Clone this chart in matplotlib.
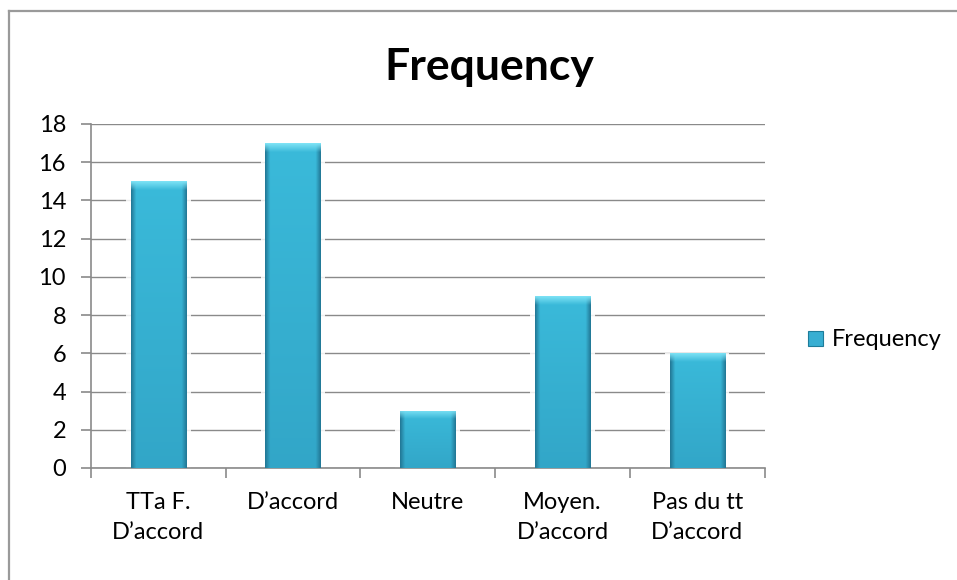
import numpy as np
import matplotlib
matplotlib.use("Agg")
import matplotlib.pyplot as plt
from matplotlib.lines import Line2D
from matplotlib.patches import Rectangle

# Survey answers and their counts
categories = ["TTa F.\nD\u2019accord", "D\u2019accord", "Neutre",
              "Moyen.\nD\u2019accord", "Pas du tt\nD\u2019accord"]
frequency = [15, 17, 3, 9, 6]
y_ticks = list(range(0, 19, 2))
series_name = "Frequency"
chart_title = "Frequency"

plt.rcParams['font.family'] = ['Lato', 'DejaVu Sans']

W, H = 957, 580
fig = plt.figure(figsize=(W / 100, H / 100), dpi=100)
ax = fig.add_axes([91 / W, 1 - 468 / H, (764.5 - 91) / W, (468 - 124) / H])

x = np.arange(len(categories))
bar_width = 0.41

# soft white halo behind each bar (hides the gridlines near the bar edges)
halo = ax.bar(x, frequency, width=bar_width + 0.07, color='white',
              edgecolor='none', alpha=0.85, zorder=2)
bars = ax.bar(x, frequency, width=bar_width, color='none',
              edgecolor='none', zorder=3)

base = np.array([58, 186, 218]) / 255.0
edge_dark = np.array([34, 120, 150]) / 255.0
top_light = np.array([125, 226, 245]) / 255.0
bottom_dark = np.array([44, 150, 185]) / 255.0


def bevel_image(height_units, nx=80, ny=300):
    u = np.linspace(0, 1, nx)
    v = np.linspace(0, 1, ny)
    U, V = np.meshgrid(u, v)
    side = np.clip(np.minimum(U, 1 - U) / 0.09, 0, 1)
    top_frac = min(0.45 / height_units, 0.35)
    top = np.clip((1 - V) / top_frac, 0, 1)
    img = np.ones((ny, nx, 3)) * base
    # darker toward the bottom of the bar
    vert = V[..., None]
    img = img * (0.45 + 0.55 * vert) + bottom_dark * (0.55 * (1 - vert))
    img = img * side[..., None] + edge_dark * (1 - side[..., None])
    img = img * top[..., None] + top_light * (1 - top[..., None])
    return np.clip(img, 0, 1)


for xi, val, patch in zip(x, frequency, bars.patches):
    im = ax.imshow(bevel_image(val), origin='lower', aspect='auto',
                   extent=[xi - bar_width / 2, xi + bar_width / 2, 0, val],
                   zorder=3, interpolation='bilinear')
    im.set_clip_path(patch)

ax.set_xlim(-0.5, len(categories) - 0.5)
ax.set_ylim(0, 18)
ax.set_yticks(y_ticks)
ax.set_yticklabels([str(t) for t in y_ticks])
ax.set_xticks(x)
ax.set_xticklabels(categories, linespacing=1.55)
ax.set_xticks(np.arange(-0.5, len(categories)), minor=True)

grey = '#8a8a8a'
ax.yaxis.grid(True, color=grey, linewidth=1.0, zorder=1)
ax.set_axisbelow(True)
for s in ('top', 'right'):
    ax.spines[s].set_visible(False)
for s in ('left', 'bottom'):
    ax.spines[s].set_color(grey)
    ax.spines[s].set_linewidth(1.2)

ax.tick_params(axis='y', which='major', length=7, color=grey, width=1.2,
               labelsize=17, pad=11)
ax.tick_params(axis='x', which='major', length=0, labelsize=17, pad=17)
ax.tick_params(axis='x', which='minor', length=7, color=grey, width=1.2)

fig.text(0.511, 1 - 67 / H, chart_title, ha='center', va='center',
         fontsize=32, fontweight='bold')

handle = Rectangle((0, 0), 1, 1, facecolor='#38aed2', edgecolor='#1e7c9a',
                   linewidth=0.8)
fig.legend([handle], [series_name], loc='center left',
           bbox_to_anchor=(799 / W, 1 - 340 / H), frameon=False,
           fontsize=17, handlelength=0.6, handleheight=0.6,
           handletextpad=0.4, borderaxespad=0)

# outer chart border (top and left edges visible)
fig.add_artist(Line2D([9 / W, 1.0], [1 - 11 / H, 1 - 11 / H],
                      transform=fig.transFigure, color='#9a9a9a', lw=1.6))
fig.add_artist(Line2D([9 / W, 9 / W], [0.0, 1 - 11 / H],
                      transform=fig.transFigure, color='#9a9a9a', lw=1.6))

fig.savefig('out.png', dpi=100, facecolor='white')
